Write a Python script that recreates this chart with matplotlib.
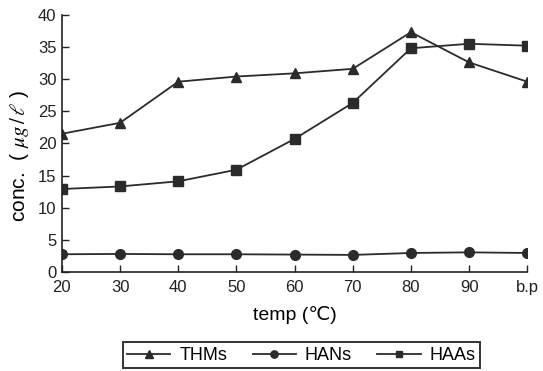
import matplotlib.pyplot as plt

# data
temps = ["20", "30", "40", "50", "60", "70", "80", "90", "b.p"]
thms = [21.5, 23.2, 29.6, 30.4, 30.9, 31.6, 37.3, 32.6, 29.6]
hans = [2.75, 2.8, 2.75, 2.75, 2.7, 2.65, 2.95, 3.05, 2.95]
haas = [12.9, 13.3, 14.1, 15.9, 20.7, 26.3, 34.8, 35.5, 35.2]

plt.rcParams['font.family'] = ['Liberation Sans', 'DejaVu Sans']
plt.rcParams['mathtext.fontset'] = 'stix'

fig = plt.figure(figsize=(5.43, 3.71), dpi=100)
ax = fig.add_axes([0.114, 0.267, 0.857, 0.693])

x = range(len(temps))
col = "#2b2b2b"
l1, = ax.plot(x, thms, color=col, lw=1.3, marker="^", ms=7, label="THMs")
l2, = ax.plot(x, hans, color=col, lw=1.3, marker="o", ms=7, label="HANs")
l3, = ax.plot(x, haas, color=col, lw=1.3, marker="s", ms=6.5, label="HAAs")

ax.set_xlim(0, len(temps) - 1)
ax.set_ylim(0, 40)
ax.set_xticks(list(x))
ax.set_xticklabels(temps)
ax.set_yticks(range(0, 41, 5))
ax.tick_params(direction="in", length=5, width=1, labelsize=12, colors="#222222")
ax.tick_params(axis="x", pad=6)
ax.tick_params(axis="y", pad=4)
for s in ["top", "right"]:
    ax.spines[s].set_visible(False)
for s in ["left", "bottom"]:
    ax.spines[s].set_linewidth(1.2)
    ax.spines[s].set_color("#222222")

ax.set_xlabel("temp (℃)", fontsize=14, labelpad=8)
ax.set_ylabel(r"conc.  ( $\mu g\,/\,\ell$ )", fontsize=15, labelpad=5, y=0.45)

leg = fig.legend(handles=[l1, l2, l3], loc="center", bbox_to_anchor=(0.555, 0.042),
                 ncol=3, fontsize=13, frameon=True, fancybox=False,
                 edgecolor="black", handlelength=2.4, columnspacing=1.4,
                 borderpad=0.25, handletextpad=0.5, markerscale=0.75)
leg.get_frame().set_linewidth(1.4)

fig.savefig("out.png", dpi=100)
